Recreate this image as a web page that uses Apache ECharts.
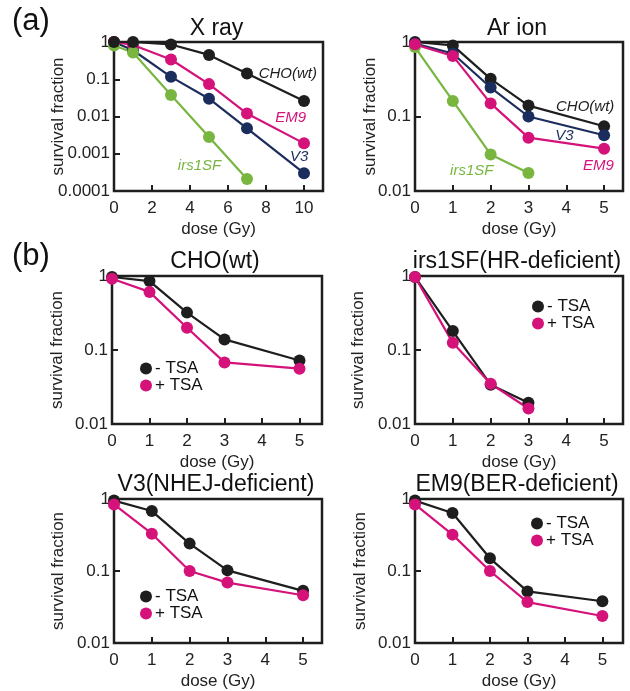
<!DOCTYPE html>
<html>
<head>
<meta charset="utf-8">
<script src="https://cdn.jsdelivr.net/npm/echarts@6/dist/echarts.min.js"></script>
<style>
  html, body { margin: 0; padding: 0; background: #fff; }
  #chart { width: 630px; height: 691px; }
</style>
</head>
<body>
<div id="chart"></div>
<script>
'use strict';

// (a) X ray
var xrayDose = [0, 1, 3, 5, 7, 10];
var xrayIrsDose = [0, 1, 3, 5, 7];
var xrayCHO = [1, 1, 0.86, 0.45, 0.143, 0.026];
var xrayEM9 = [1, 0.83, 0.34, 0.074, 0.012, 0.0019];
var xrayV3 = [1, 0.6, 0.116, 0.03, 0.0048, 0.0003];
var xrayIrs = [0.81, 0.52, 0.038, 0.0028, 0.00021];

// (a) Ar ion
var arDose = [0, 1, 2, 3, 5];
var arIrsDose = [0, 1, 2, 3];
var arCHO = [1, 0.9, 0.32, 0.14, 0.074];
var arV3 = [0.95, 0.7, 0.245, 0.1, 0.056];
var arEM9 = [0.93, 0.65, 0.15, 0.052, 0.037];
var arIrs = [0.855, 0.162, 0.031, 0.0175];

// (b) TSA
var tsaDose = [0, 1, 2, 3, 5];
var tsaIrsDose = [0, 1, 2, 3];
var choMinus = [0.97, 0.855, 0.32, 0.139, 0.072];
var choPlus = [0.92, 0.61, 0.2, 0.068, 0.056];
var irsMinus = [0.97, 0.18, 0.034, 0.0194];
var irsPlus = [0.97, 0.125, 0.035, 0.0162];
var v3Minus = [0.95, 0.68, 0.24, 0.102, 0.053];
var v3Plus = [0.84, 0.33, 0.1, 0.069, 0.046];
var em9Minus = [0.95, 0.64, 0.15, 0.052, 0.038];
var em9Plus = [0.84, 0.32, 0.1, 0.037, 0.0237];

var panelTitles = ['X ray', 'Ar ion', 'CHO(wt)', 'irs1SF(HR-deficient)', 'V3(NHEJ-deficient)', 'EM9(BER-deficient)'];

var FONT = '"Liberation Sans", Arial, sans-serif';
var BLACK = '#1e1e1e';
var PINK = '#d4127a';
var NAVY = '#1b2d5c';
var GREEN = '#78b640';

var grids = [
    { left: 114, top: 42, width: 209, height: 149 },
    { left: 415, top: 42, width: 208, height: 149 },
    { left: 112, top: 276, width: 210, height: 148 },
    { left: 415, top: 276, width: 208, height: 148 },
    { left: 114, top: 499, width: 208, height: 149 },
    { left: 415, top: 499, width: 208, height: 149 }
];
var xMax = [11, 5.5, 5.6, 5.5, 5.5, 5.55];
var xStep = [2, 1, 1, 1, 1, 1];
var yMin = [0.0001, 0.01, 0.01, 0.01, 0.01, 0.01];
var yNameGap = [47, 36, 46, 48, 47, 46];
var titleTop = [17, 17, 250, 250, 473, 473];

function zip(xs, ys) {
    return ys.map(function (y, i) { return [xs[i], y]; });
}

function line(name, idx, xs, ys, color, tag) {
    var s = {
        type: 'line',
        name: name,
        xAxisIndex: idx,
        yAxisIndex: idx,
        data: zip(xs, ys),
        symbol: 'circle',
        symbolSize: 12,
        lineStyle: { color: color, width: 2.2 },
        itemStyle: { color: color },
        emphasis: { disabled: true }
    };
    if (tag) {
        s.markPoint = {
            symbol: 'circle',
            symbolSize: 1,
            silent: true,
            itemStyle: { color: 'rgba(0,0,0,0)' },
            label: {
                show: true, position: 'inside', formatter: name,
                color: color, fontStyle: 'italic', fontSize: 15, fontFamily: FONT
            },
            data: [{ coord: tag }]
        };
    }
    return s;
}

var option = {
    animation: false,
    backgroundColor: '#fff',
    title: panelTitles.map(function (t, i) {
        return {
            text: t,
            left: grids[i].left + grids[i].width / 2 - 2,
            top: titleTop[i],
            textAlign: 'center',
            padding: 0,
            textStyle: { fontFamily: FONT, fontSize: 23, fontWeight: 'normal', color: '#111' }
        };
    }),
    graphic: [
        { type: 'text', left: 12, top: 6, style: { text: '(a)', font: '31px ' + FONT, fill: '#111' } },
        { type: 'text', left: 12, top: 241, style: { text: '(b)', font: '31px ' + FONT, fill: '#111' } }
    ],
    legend: [
        { left: 140, top: 360 },
        { left: 532, top: 298 },
        { left: 140, top: 588 },
        { left: 531, top: 515 }
    ].map(function (p) {
        return {
            left: p.left, top: p.top, orient: 'vertical',
            data: ['- TSA', '+ TSA'],
            icon: 'circle', itemWidth: 12, itemHeight: 12, itemGap: 0,
            selectedMode: false, padding: 0,
            textStyle: { fontFamily: FONT, fontSize: 17, color: '#111', padding: [0, 0, 0, -2] }
        };
    }),
    grid: grids.map(function (g) {
        return {
            left: g.left, top: g.top, width: g.width, height: g.height,
            show: true, borderColor: BLACK, borderWidth: 2.5, backgroundColor: 'transparent'
        };
    }),
    xAxis: grids.map(function (g, i) {
        return {
            type: 'value', gridIndex: i, min: 0, max: xMax[i], interval: xStep[i],
            name: 'dose (Gy)', nameLocation: 'middle', nameGap: 30,
            nameTextStyle: { fontFamily: FONT, fontSize: 17, color: '#222' },
            axisLine: { show: false },
            axisTick: { show: true, inside: true, length: 6, lineStyle: { color: BLACK, width: 2 } },
            axisLabel: {
                fontFamily: FONT, fontSize: 17, color: '#222', margin: 9,
                formatter: function (v) { return v === xMax[i] ? '' : String(v); }
            },
            splitLine: { show: false }
        };
    }),
    yAxis: grids.map(function (g, i) {
        return {
            type: 'log', logBase: 10, gridIndex: i, min: yMin[i], max: 1,
            name: 'survival fraction', nameLocation: 'middle', nameGap: yNameGap[i], nameRotate: 90,
            nameMoveOverlap: false,
            nameTextStyle: { fontFamily: FONT, fontSize: 17, color: '#222' },
            axisLine: { show: false },
            axisTick: { show: true, inside: true, length: 6, lineStyle: { color: BLACK, width: 2 } },
            axisLabel: {
                fontFamily: FONT, fontSize: 17, color: '#222', margin: 4,
                formatter: function (v) { return String(+(+v).toPrecision(2)); }
            },
            splitLine: { show: false },
            minorTick: { show: false }
        };
    }),
    series: [
        line('V3', 0, xrayDose, xrayV3, NAVY, [9.75, 0.00082]),
        line('EM9', 0, xrayDose, xrayEM9, PINK, [9.3, 0.0091]),
        line('irs1SF', 0, xrayIrsDose, xrayIrs, GREEN, [4.5, 0.00047]),
        line('CHO(wt)', 0, xrayDose, xrayCHO, BLACK, [9.15, 0.138]),

        line('irs1SF', 1, arIrsDose, arIrs, GREEN, [1.5, 0.0186]),
        line('CHO(wt)', 1, arDose, arCHO, BLACK, [4.5, 0.134]),
        line('V3', 1, arDose, arV3, NAVY, [3.95, 0.055]),
        line('EM9', 1, arDose, arEM9, PINK, [4.85, 0.0218]),

        line('- TSA', 2, tsaDose, choMinus, BLACK),
        line('+ TSA', 2, tsaDose, choPlus, PINK),
        line('- TSA', 3, tsaIrsDose, irsMinus, BLACK),
        line('+ TSA', 3, tsaIrsDose, irsPlus, PINK),
        line('- TSA', 4, tsaDose, v3Minus, BLACK),
        line('+ TSA', 4, tsaDose, v3Plus, PINK),
        line('- TSA', 5, tsaDose, em9Minus, BLACK),
        line('+ TSA', 5, tsaDose, em9Plus, PINK)
    ]
};

var myChart = echarts.init(document.getElementById('chart'));
myChart.setOption(option);
</script>
</body>
</html>
